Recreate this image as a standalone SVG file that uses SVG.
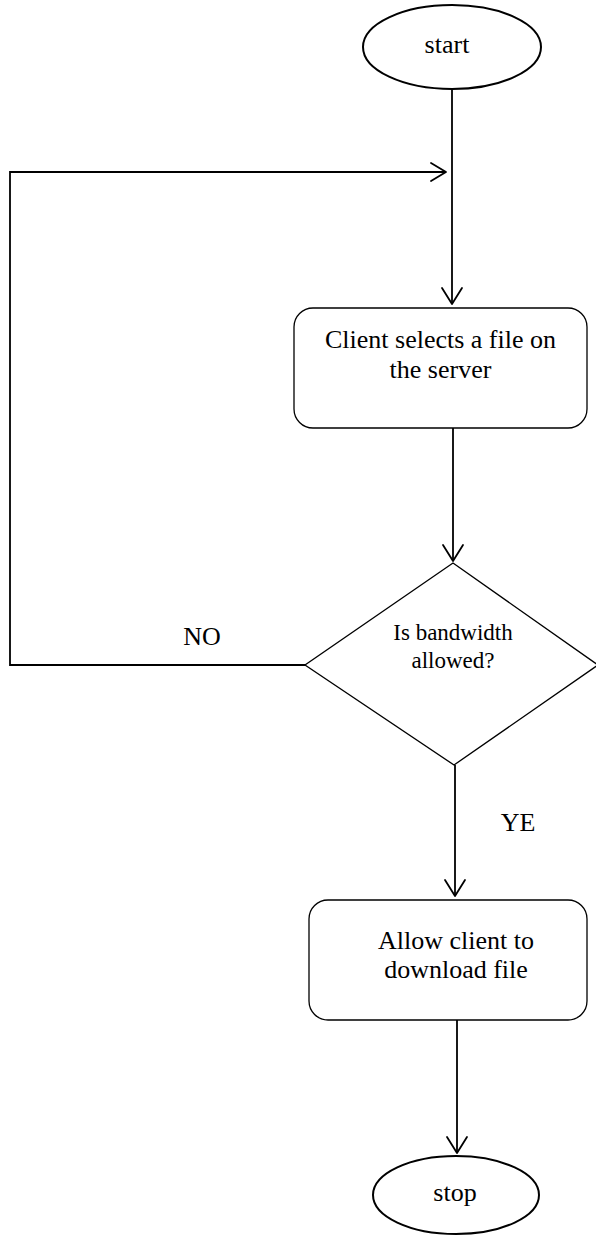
<svg xmlns="http://www.w3.org/2000/svg" width="596" height="1236" viewBox="0 0 596 1236">
  <style>
    .shape { fill: #ffffff; stroke: #000000; stroke-width: 1.3; }
    .term { fill: #ffffff; stroke: #000000; stroke-width: 2; }
    .edge { fill: none; stroke: #000000; stroke-width: 1.8; }
    .head { fill: none; stroke: #000000; stroke-width: 1.8; stroke-linecap: round; stroke-linejoin: round; }
    text { font-family: "Liberation Serif", "Times New Roman", serif; fill: #000000; text-anchor: middle; }
    .big { font-size: 26px; }
    .small { font-size: 23px; }
  </style>
  <rect width="596" height="1236" fill="#ffffff"/>

  <g id="connectors">
    <!-- start -> process -->
    <line class="edge" x1="452" y1="89" x2="452" y2="304"/>
    <polyline class="head" points="442,288 452,304 462,288"/>
    <!-- loop back from decision (NO) -->
    <polyline class="edge" points="305,665 10,665 10,172 446,172"/>
    <polyline class="head" points="431,163 446,172 431,181"/>
    <!-- process -> decision -->
    <line class="edge" x1="453" y1="428" x2="453" y2="561"/>
    <polyline class="head" points="443,545 453,561 463,545"/>
    <!-- decision -> allow (YE) -->
    <line class="edge" x1="455" y1="765" x2="455" y2="896"/>
    <polyline class="head" points="445,880 455,896 465,880"/>
    <!-- allow -> stop -->
    <line class="edge" x1="457" y1="1020" x2="457" y2="1153"/>
    <polyline class="head" points="447,1137 457,1153 467,1137"/>
    <text class="big" x="202" y="645">NO</text>
    <text class="big" x="518" y="831">YE</text>
  </g>

  <g id="start">
    <ellipse class="term" cx="452" cy="47" rx="89" ry="42"/>
    <text class="big" x="447" y="53">start</text>
  </g>

  <g id="select-file">
    <rect class="shape" x="294" y="308" width="293" height="120" rx="19" ry="19"/>
    <text class="big" x="440.5" y="348">Client selects a file on</text>
    <text class="big" x="440.5" y="378">the server</text>
  </g>

  <g id="bandwidth-check">
    <polygon class="shape" points="453,563 598,665 454,765 305,665"/>
    <text class="small" x="453" y="640">Is bandwidth</text>
    <text class="small" x="453" y="668">allowed?</text>
  </g>

  <g id="allow-download">
    <rect class="shape" x="309" y="900" width="278" height="120" rx="19" ry="19"/>
    <text class="big" x="456" y="949">Allow client to</text>
    <text class="big" x="456" y="978">download file</text>
  </g>

  <g id="stop">
    <ellipse class="term" cx="456" cy="1195" rx="83" ry="39"/>
    <text class="big" x="455" y="1201">stop</text>
  </g>
</svg>
